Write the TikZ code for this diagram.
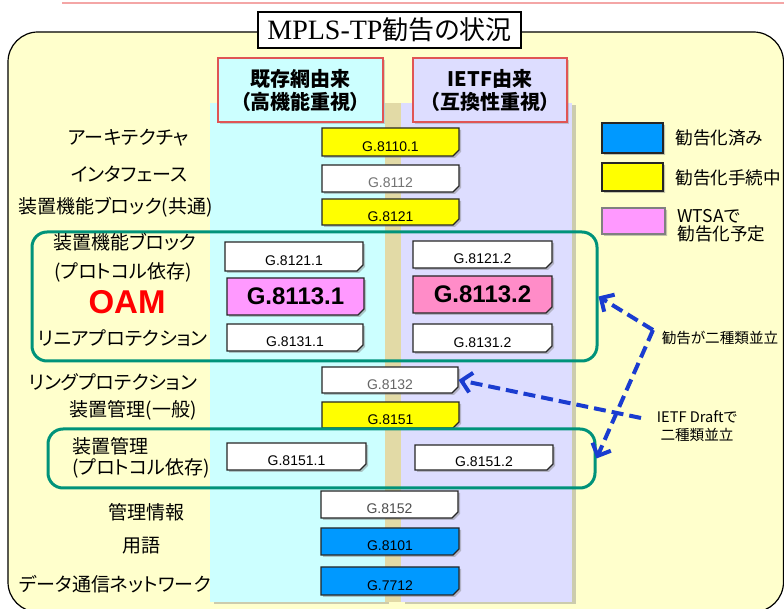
\documentclass[tikz,border=0pt]{standalone}
\usepackage{fontspec}
\setmainfont{Liberation Sans}
\newfontfamily\jp[RawFeature=+palt]{Noto Sans CJK JP}
\newfontfamily\titleserif{Liberation Serif}
\usetikzlibrary{shapes.misc,shadows,arrows.meta}

\definecolor{paper}{HTML}{FFFFCC}
\definecolor{colcyan}{HTML}{CCFFFF}
\definecolor{collav}{HTML}{DDDDFF}
\definecolor{striptan}{HTML}{E2DAA6}
\definecolor{gyellow}{HTML}{FFFF00}
\definecolor{gblue}{HTML}{0099FF}
\definecolor{gpink}{HTML}{FF99FF}
\definecolor{gpinkb}{HTML}{FF8CC8}
\definecolor{grpgreen}{HTML}{00937A}
\definecolor{arrowblue}{HTML}{1A3CD0}
\definecolor{hdrred}{HTML}{E05555}
\definecolor{topline}{HTML}{F4A6A6}

\begin{document}
\begin{tikzpicture}[x = 0.5pt, y = -0.5pt,
  px/.style 2 args = {minimum width = #1*0.5pt, minimum height = #2*0.5pt},
  gbase/.style = {chamfered rectangle, chamfered rectangle corners = south east,
    chamfered rectangle xsep = 1.5pt, chamfered rectangle ysep = 1.5pt,
    draw = black!85, line width = 0.6pt, inner sep = 0pt,
    drop shadow = {shadow xshift = 1pt, shadow yshift = -1pt, opacity = .45}},
  gbox/.style = {gbase, fill = white, font = \fontsize{7}{8}\selectfont,
    text height = 9.4pt, text depth = 0pt},
  gbig/.style = {gbase, font = \bfseries\fontsize{12}{14}\selectfont},
  hdr/.style = {draw = hdrred, line width = 0.8pt, inner sep = 0pt, align = center,
    font = \jp\bfseries\fontsize{10}{11.5}\selectfont,
    drop shadow = {shadow xshift = 1pt, shadow yshift = -1pt, opacity = .35}},
  grp/.style = {draw = grpgreen, line width = 1.5pt, rounded corners = 7.5pt, inner sep = 0pt},
  lbl/.style = {font = \jp\fontsize{9.5}{11}\selectfont, inner sep = 0pt},
  keytxt/.style = {font = \jp\fontsize{8.8}{10}\selectfont, inner sep = 0pt, anchor = west},
  note/.style = {font = \jp\fontsize{7.3}{9}\selectfont, inner sep = 0pt, align = center},
  colshadow/.style = {drop shadow = {shadow xshift = 2pt, shadow yshift = -1pt, opacity = .4}},
  dasharrow/.style = {draw = arrowblue, line width = 2pt, dash pattern = on 6pt off 3pt,
    -{Straight Barb[length = 5pt, width = 10pt, line width = 2pt]}}]
\useasboundingbox (0,0) rectangle (784,609);

% background
\draw [topline, line width = 1pt] (62,3) -- (784,3);
\draw [fill = paper, line width = 0.6pt, rounded corners = 15pt] (8,32) rectangle (783.5,612);

% the two columns
\fill [colcyan, colshadow] (210,103) rectangle (385,602);
\fill [striptan] (385,103) rectangle (401,602);
\fill [collav, colshadow] (401,103) rectangle (572,602);

\node [draw, fill = white, line width = 0.6pt, inner sep = 0pt, px = {263}{36},
  font = \jp\fontsize{13}{15}\selectfont] (title) at (389.5,30) {{\titleserif\fontsize{14}{15}\selectfont MPLS-TP}勧告の状況};

\node [hdr, fill = colcyan, px = {165}{64}] (legacy) at (300.5,90) {既存網由来\\（高機能重視）};
\node [hdr, fill = collav, px = {154}{64}] (ietf) at (490,90) {IETF由来\\（互換性重視）};

% recommendations
\node [gbox, fill = gyellow, px = {137}{28}] (g81101) at (390.5,142) {G.8110.1};
\node [gbox, text = black!55, px = {137}{27}] (g8112) at (390.5,178.5) {G.8112};
\node [gbox, fill = gyellow, px = {137}{26}] (g8121) at (390.5,212) {G.8121};

\node [gbox, px = {138}{29}] (g81211) at (294,256.5) {G.8121.1};
\node [gbig, fill = gpink, px = {137}{37}] (g81131) at (295.5,296.5) {G.8113.1};
\node [gbox, px = {136}{27}] (g81311) at (295,337.5) {G.8131.1};
\node [gbox, px = {139}{27}] (g81212) at (482.5,254.5) {G.8121.2};
\node [gbig, fill = gpinkb, px = {139}{37}] (g81132) at (482.5,294.5) {G.8113.2};
\node [gbox, px = {139}{28}] (g81312) at (482.5,338) {G.8131.2};

\node [gbox, text = black!60, px = {136}{26}] (g8132) at (390,380) {G.8132};
\node [gbox, fill = gyellow, px = {137}{26}] (g8151) at (390.5,415) {G.8151};
\node [gbox, px = {139}{27}] (g81511) at (296.5,456.5) {G.8151.1};
\node [gbox, px = {138}{25}] (g81512) at (484,457.5) {G.8151.2};
\node [gbox, text = black!70, px = {137}{27}] (g8152) at (389.5,504.5) {G.8152};
\node [gbox, fill = gblue, px = {138}{27}] (g8101) at (390,541.5) {G.8101};
\node [gbox, fill = gblue, px = {138}{28}] (g7712) at (390,581) {G.7712};

% groups
\node [grp, px = {565}{129}] (oamgrp) at (314.5,296.5) {};
\node [grp, px = {547}{59}] (mgmtgrp) at (321.5,458.5) {};

% row labels
\node [lbl, anchor = east] (arch) at (189,138) {アーキテクチャ};
\node [lbl, anchor = east] (intf) at (188,174) {インタフェース};
\node [lbl, anchor = east] (eqcom) at (213,207) {装置機能ブロック(共通)};
\node [lbl] (eqfn) at (125,242) {装置機能ブロック};
\node [lbl, anchor = west] (eqdep) at (54,272) {(プロトコル依存)};
\node [inner sep = 0pt, text = red, font = \bfseries\fontsize{16.5}{18}\selectfont] (oam) at (127,302) {OAM};
\node [lbl] (linprot) at (123,338) {リニアプロテクション};
\node [lbl] (ringprot) at (113,382) {リングプロテクション};
\node [lbl, anchor = east] (mgmt) at (197,410) {装置管理(一般)};
\node [lbl, anchor = west] (mgmtp) at (72,446) {装置管理};
\node [lbl, anchor = west] (mgmtdep) at (72,468) {(プロトコル依存)};
\node [lbl] (mib) at (147,512) {管理情報};
\node [lbl] (terms) at (141,546) {用語};
\node [lbl] (dcn) at (115,584) {データ通信ネットワーク};

% legend
\node [gbase, fill = gblue, px = {61}{30}] (keydone) at (632.5,138) {};
\node [gbase, fill = gyellow, px = {61}{28}] (keywork) at (632.5,177) {};
\node [gbase, fill = gpink, draw = black!50, px = {63}{26}] (keywtsa) at (633.5,221) {};
\node [keytxt] (txtdone) at (675,138) {勧告化済み};
\node [keytxt] (txtwork) at (675,178) {勧告化手続中};
\node [keytxt, align = left, font = \jp\fontsize{8.8}{8.8}\selectfont] (txtwtsa) at (677,226) {WTSAで\\勧告化予定};

% notes and arrows
\node [note] (twin) at (720,338) {勧告が二種類並立};
\node [note] (draft) at (697,426) {IETF Draftで\\二種類並立};
\coordinate (fork) at (653,330);
\coordinate (dstart) at (641,418);
\draw [dasharrow] (fork) -- (oamgrp.east);
\draw [dasharrow] (fork) -- (mgmtgrp.east);
\draw [dasharrow] (dstart) -- (g8132.east);
\end{tikzpicture}
\end{document}
